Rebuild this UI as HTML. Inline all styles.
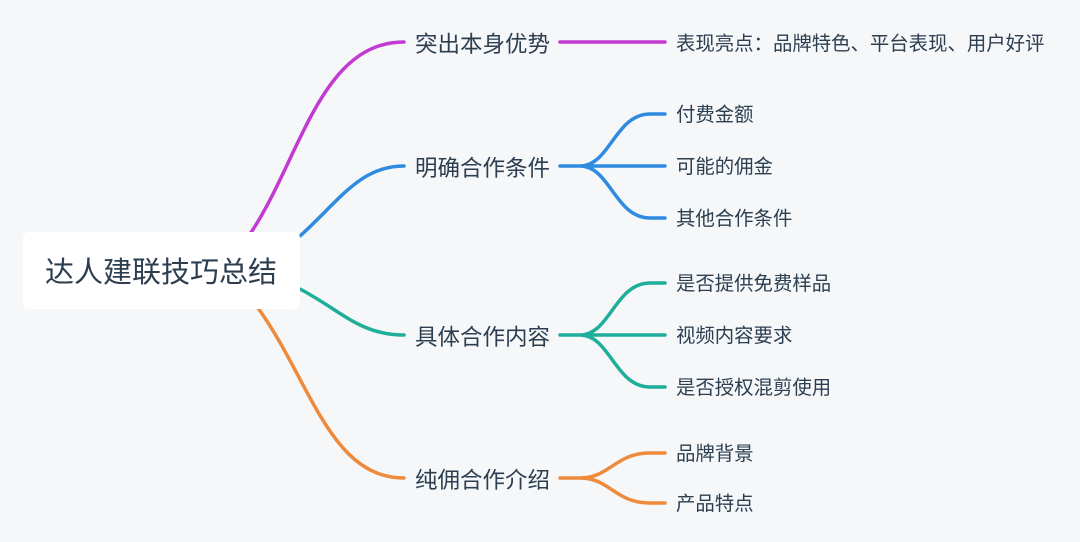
<!DOCTYPE html>
<html><head><meta charset="utf-8"><style>
html,body{margin:0;padding:0;background:#f5f7f9;}
svg{display:block}
text{font-family:"Liberation Sans","Noto Sans CJK SC",sans-serif;fill:#2c3e50}
</style></head><body>
<svg width="1080" height="542" viewBox="0 0 1080 542" xmlns="http://www.w3.org/2000/svg">
<rect width="1080" height="542" fill="#f5f7f9"/>
<g fill="none" stroke-width="3.5" stroke-linecap="round">
<path d="M250 234 C300 160 320 42 404 42 M560 42 L665 42" stroke="#c33ad3"/>
<path d="M300 236 C340 200 360 166 404 166 M560 166 L580 166 C610 166 615 114 650 114 L665 114 M580 166 L665 166 M580 166 C610 166 615 218 650 218 L665 218" stroke="#2f8be0"/>
<path d="M300 289 C340 310 360 335 404 335 M560 335 L580 335 C610 335 615 283 650 283 L665 283 M580 335 L665 335 M580 335 C610 335 615 387 650 387 L665 387" stroke="#1fae99"/>
<path d="M258 308 C310 380 330 478 404 478 M560 478 L580 478 C610 478 615 453 650 453 L665 453 M580 478 C610 478 615 503 650 503 L665 503" stroke="#ee8a3b"/>
</g>
<rect x="23" y="232" width="277" height="77" rx="6" fill="#fff"/>
<text x="45" y="282" font-size="29">达人建联技巧总结</text>
<g font-size="22.5">
<text x="415" y="52">突出本身优势</text>
<text x="415" y="176">明确合作条件</text>
<text x="415" y="345">具体合作内容</text>
<text x="415" y="488">纯佣合作介绍</text>
</g>
<g font-size="19.4">
<text x="676" y="50">表现亮点：品牌特色、平台表现、用户好评</text>
<text x="676" y="121">付费金额</text>
<text x="676" y="173">可能的佣金</text>
<text x="676" y="225">其他合作条件</text>
<text x="676" y="290">是否提供免费样品</text>
<text x="676" y="342">视频内容要求</text>
<text x="676" y="394">是否授权混剪使用</text>
<text x="676" y="460">品牌背景</text>
<text x="676" y="510">产品特点</text>
</g>
</svg>
</body></html>
